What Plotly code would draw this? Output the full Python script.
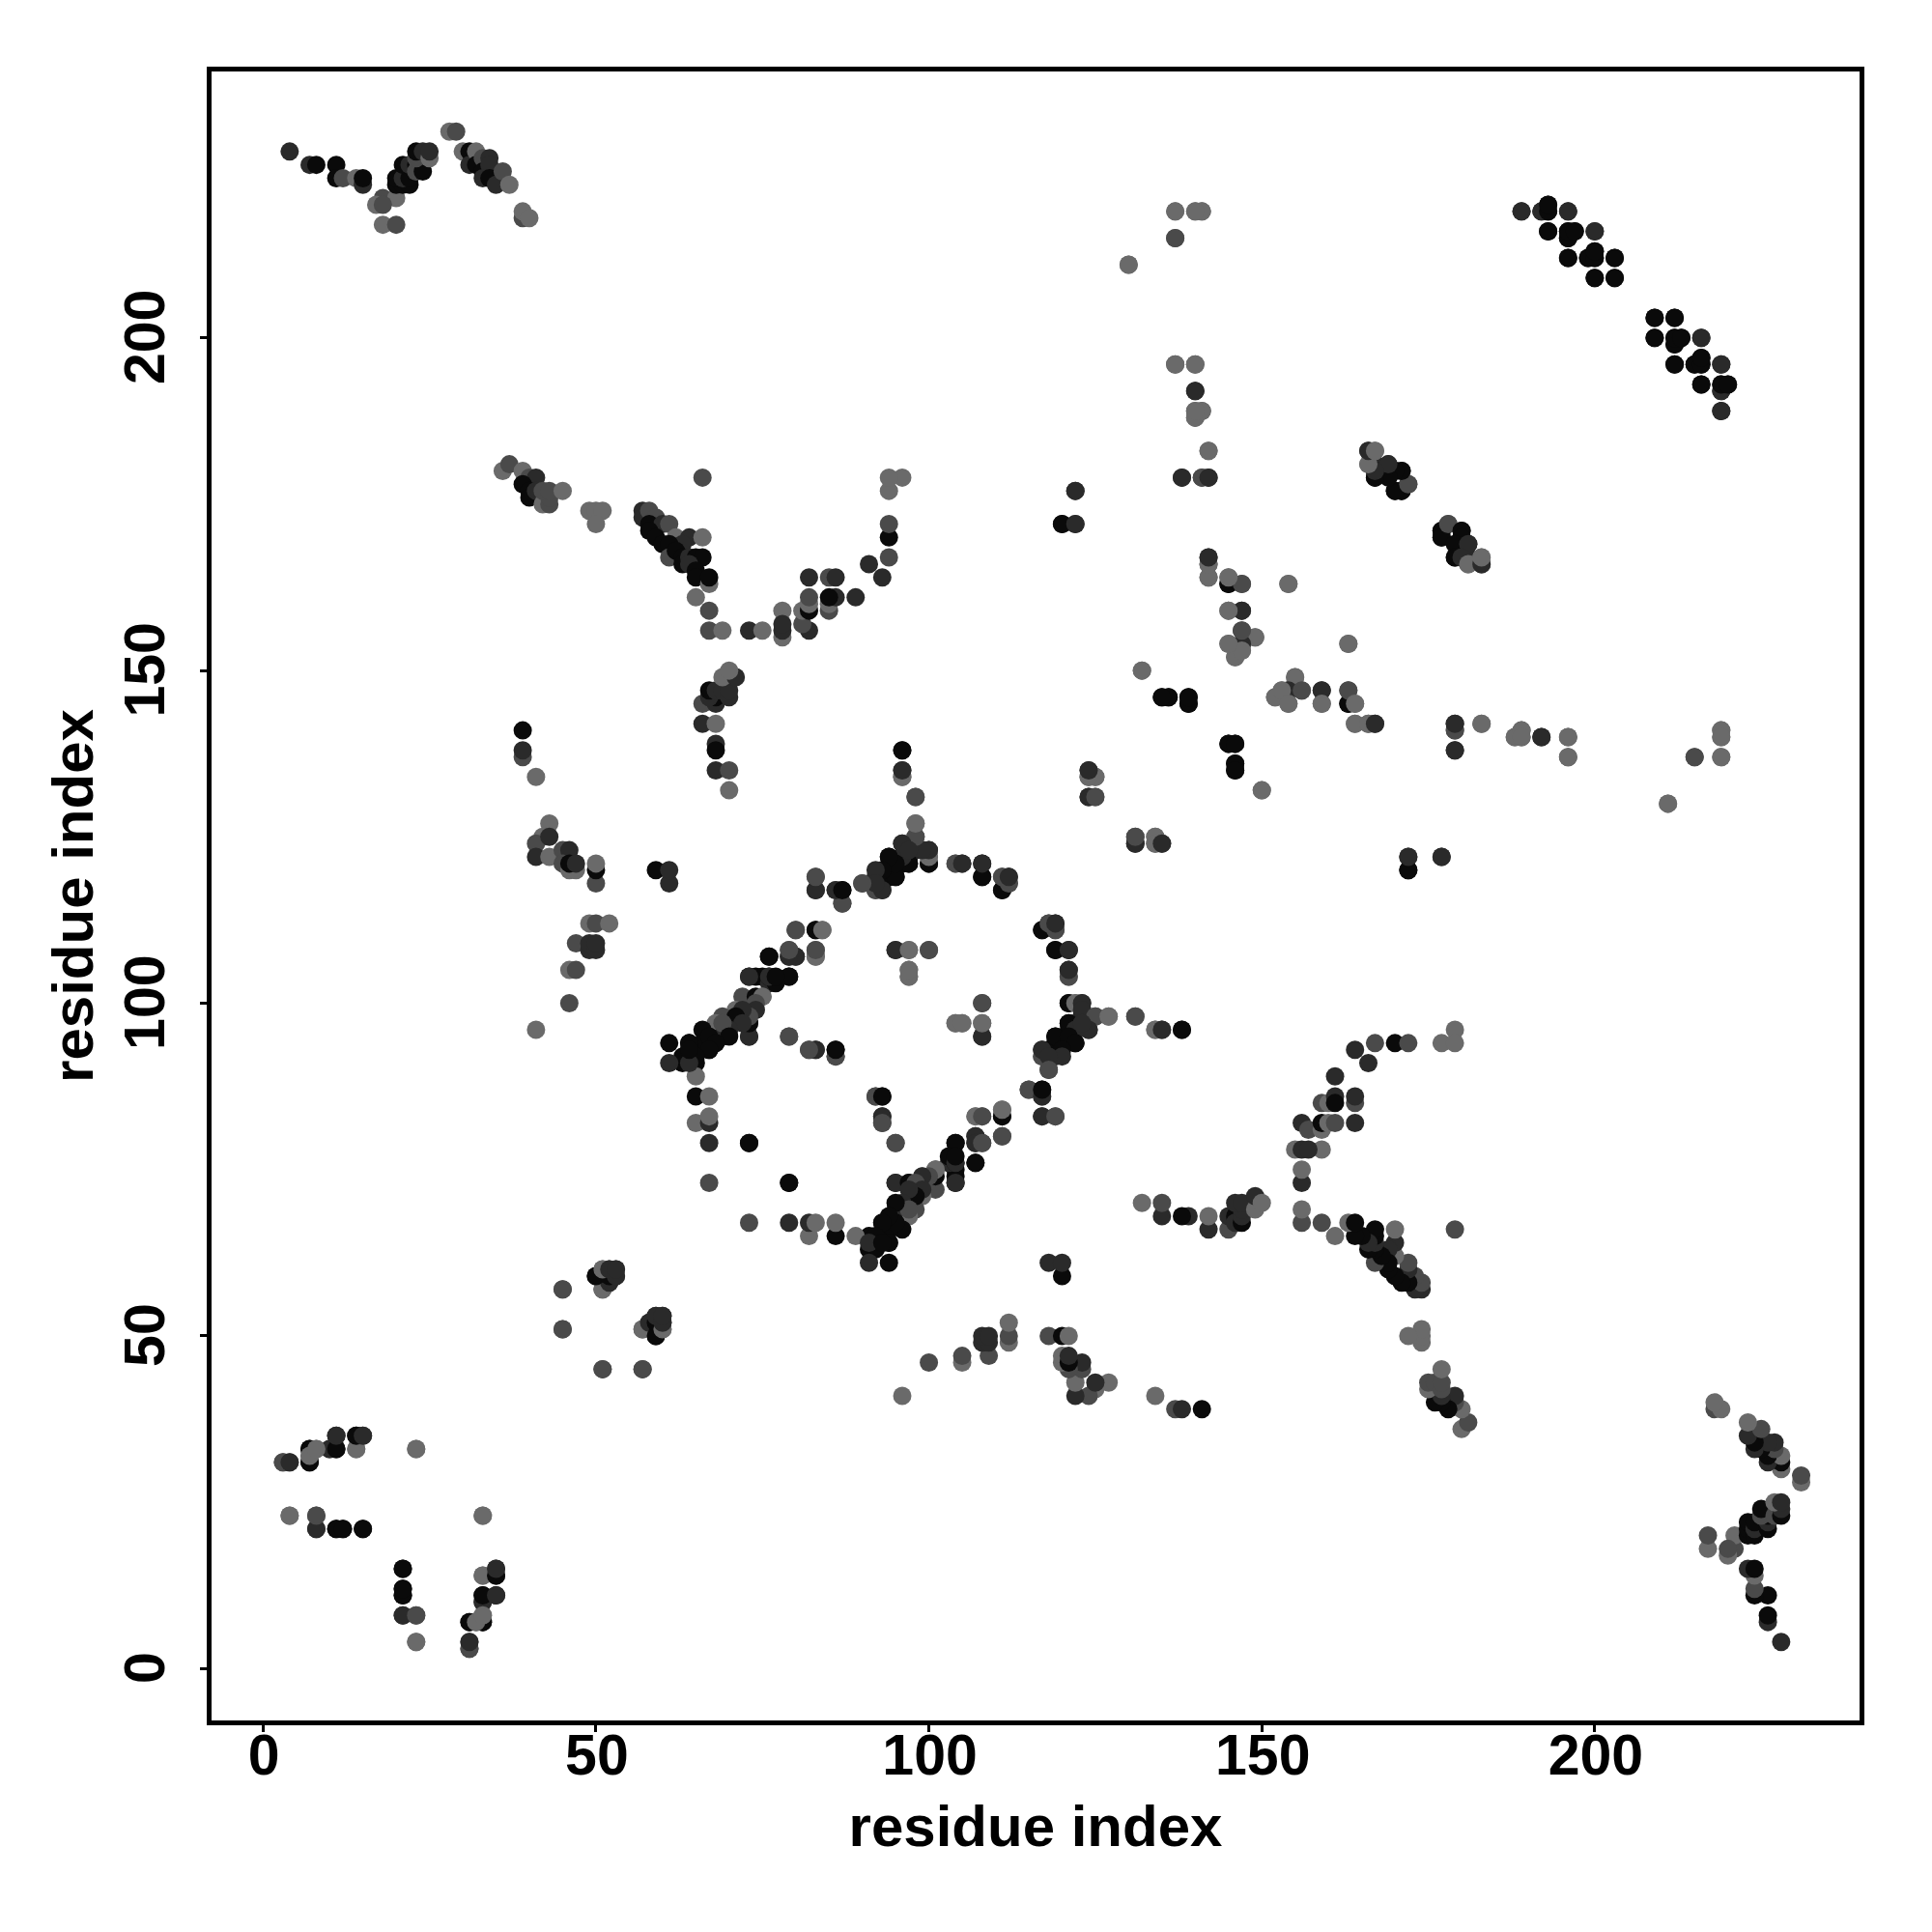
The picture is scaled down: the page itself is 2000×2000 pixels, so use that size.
import plotly.graph_objects as go

# Contacts (residue i, residue j, shade code), i < j; the map is symmetric.
top_left = [(4,228,1),(7,226,1),(8,226,0),(11,226,0),(11,224,0),(12,224,2),(14,224,3),(15,223,1),(15,224,0),
 (18,221,2),(17,220,3),(20,221,3),(18,220,2),(18,217,3),(20,217,2),
 (20,223,0),(21,223,0),(22,223,0),(20,224,0),(21,224,1),(22,224,0),(21,226,0),(22,226,1),(23,226,0),(23,225,2),(24,225,0),
 (23,227,2),(23,228,0),(24,228,1),(25,227,3),(25,228,1),
 (28,231,3),(29,231,2),(30,228,3),(31,228,0),(31,226,1),(32,228,3),(32,226,0),(33,227,2),(34,227,1),(33,225,0),(34,226,1),
 (33,224,1),(34,224,0),(35,223,1),(36,225,2),(37,223,3),(39,218,2),(39,219,3),(40,218,3)]
upper_left_arm = [(36,180,3),(37,181,2),(39,180,3),(40,179,2),(41,179,1),(39,178,0),(40,177,0),(40,176,0),(41,177,1),
 (42,175,3),(43,175,2),(43,176,2),(42,177,2),(43,177,2),(45,177,3),
 (49,174,3),(50,174,3),(51,174,3),(50,172,3),(66,179,2),
 (57,174,1),(57,173,1),(58,174,2),(59,173,2),(58,172,0),(60,172,1),(61,172,2),(58,171,0),(59,170,0),(60,169,0),
 (62,170,3),(64,170,1),(66,170,3),(63,169,1),(61,169,0),(61,167,2),(62,168,0),(63,167,0),(63,166,0),(64,167,1),(65,167,0),(66,167,0),
 (64,166,1),(65,165,0),(65,164,0),(67,163,3),(67,164,0),(65,161,3),(67,159,2),(67,156,2),(69,156,3),(73,156,1),(75,156,3),
 (78,159,3),(78,155,3),(78,156,1),(82,156,1),(81,157,2),(78,157,1),(81,159,3),(82,159,0),(82,160,3),(82,161,2),(85,159,2),(85,160,3),
 (86,161,1),(85,161,0),(82,164,1),(85,164,2),(86,164,1),(89,161,1),(93,164,1),(91,166,1),(94,167,2),(94,170,0),(94,172,2),
 (94,177,3),(96,179,3),(94,179,3)]
left_stems = [(39,141,0),(39,137,2),(39,138,1),(41,134,3),(43,127,3),(42,125,3),(41,124,2),(43,125,1),(41,122,1),(43,122,3),
 (45,123,2),(46,123,1),(45,121,2),(46,120,3),(47,120,3),(46,121,0),(47,121,1),(50,118,2),(50,120,0),(50,121,3),
 (59,120,0),(61,118,1),(61,120,1),(49,112,3),(50,112,2),(52,112,3),(47,109,2),(49,108,1),(49,109,1),(50,108,1),(50,109,1),
 (46,105,3),(47,105,2),(46,100,2),(41,96,3)]
beta_66_150 = [(66,142,1),(68,142,3),(66,145,2),(68,145,1),(68,146,0),(67,146,1),(67,147,0),(68,147,1),(69,147,1),(70,146,1),(70,147,1),
 (69,149,3),(71,149,1),(70,150,3),(68,139,1),(68,138,0),(68,135,1),(70,135,2),(70,132,3)]
ring_top = [(96,138,1),(96,134,3),(96,135,1),(98,131,2),(98,127,3),(98,125,2),(83,119,2),(83,117,1),(86,117,2),(87,117,0),(87,115,2),
 (90,118,2),(92,117,3),(92,119,1),(93,117,1),(93,118,0),(93,119,0),(94,119,0),(94,122,0),(95,119,0),(95,121,2),(96,121,0),(96,122,1),(96,124,1),
 (97,121,0),(97,122,0),(97,123,1),(98,123,1),(99,123,0),(100,122,3),(100,121,0),(100,123,1),(104,121,3),(105,121,1),(108,121,0),(108,119,0),
 (111,117,1),(111,119,2),(112,118,1),(112,119,0),
 (117,111,0),(118,112,2),(119,111,2),(119,112,1)]
ring_left = [(80,111,2),(83,111,0),(84,111,3),(83,107,3),(83,108,2),(79,108,2),(79,107,1),(80,107,1),(76,107,0),(79,104,0),
 (73,104,0),(74,104,0),(75,104,0),(76,103,1),(76,104,0),(72,101,2),(75,101,2),(74,101,0),(71,99,3),(72,99,2),(74,99,3),(72,98,1),
 (73,97,0),(73,95,0),(69,98,2),(68,97,3),(69,95,1),(66,96,0),(67,93,0),(66,94,0),(64,94,0),(64,93,0),(65,91,0),(63,91,0),
 (79,95,2),(82,93,2),(83,93,1),(86,92,1),(86,93,0),
 (65,89,3),(65,86,0),(67,86,3),(65,82,3),(67,82,1),(67,83,3),(67,79,1),(73,79,0),(67,73,2),(79,73,0)]
ring_inner = [(95,108,1),(97,108,3),(100,108,2),(97,104,3),(97,105,3),(104,97,3),(105,97,3),(108,100,2),(108,95,1),(108,97,3)]
ring_lower = [(92,86,2),(93,86,0),(93,83,1),(93,82,2),(95,79,2),(95,73,1),(97,73,0)]
ring_right = [(119,108,0),(121,108,1),(121,104,2),(121,105,1),(121,100,0),(122,100,3),(123,100,1),(123,99,1),(125,98,2),(127,98,3),(131,98,2),
 (134,96,3),(135,96,1),(138,96,0),
 (121,97,0),(122,96,1),(124,96,1),(123,97,1),(119,95,0),(121,95,0),(122,94,0),(120,93,0),(120,92,1),(117,92,2),(117,93,1),(118,92,1),(118,90,2),
 (115,87,2),(117,86,1),(117,87,0),(117,83,1),(119,83,2),(111,83,0),(111,84,3),(107,83,3),(108,83,2),(111,80,2),(107,80,1),(107,79,1),(108,79,2),
 (104,79,0),(107,76,0),(103,77,0),(104,76,1),(104,77,0),(104,73,1)]
helix_pairs = [(101,75,3),(100,74,2),(99,74,1),(98,73,2),(99,72,1),(98,71,0),(97,72,1),(96,70,1),(97,69,2),(95,70,0),(95,67,0),(94,68,0),(93,67,0),(94,64,0),
 (92,65,0),(92,63,0),(91,64,1),(93,64,0),(91,61,1),(94,61,0)]
upper_mid = [(122,177,1),(120,172,0),(122,172,1),(130,211,3),(137,219,3),(140,219,3),(141,219,3),(137,215,2),(137,196,2),(140,196,2),(140,192,0),
 (140,188,3),(140,189,2),(141,189,2),(142,183,3),(138,179,1),(141,179,2),(142,179,1),
 (142,167,1),(142,166,2),(142,164,3),(145,163,0),(145,164,3),(147,163,2),(154,163,3),(145,159,3),(147,159,1),
 (147,156,2),(149,155,3),(147,154,0),(145,154,3),(147,153,3),(146,152,3),(132,150,3),(163,154,3),
 (135,146,0),(136,146,0),(139,146,0),(139,145,0),(152,146,3),(155,149,3),(154,147,1),(153,147,3),(154,145,3),(156,147,2),(159,147,1),(159,145,3),
 (163,145,0),(163,147,2),(164,145,3),(164,142,3),(166,142,3),(167,142,1),(179,141,2),(179,142,1),(179,138,1),(183,142,3),
 (188,140,3),(189,141,3),(189,140,3),(192,140,1),(196,140,3),(196,137,3),(211,130,3),(215,137,2),(219,141,3),(219,140,3),(219,137,3),
 (145,139,0),(146,139,0),(146,136,0),(146,135,0),(150,132,3),
 (124,135,1),(124,134,2),(125,134,3),(124,131,0),(125,131,2),(131,124,1),(131,125,2),(134,125,3),(134,124,3),(135,124,1),
 (172,120,0),(172,122,1),(177,122,1)]
right_beta = [(166,183,1),(166,181,3),(167,181,1),(167,183,3),(167,180,0),(167,179,0),(168,180,1),(169,181,1),(170,180,1),(171,180,0),(170,177,0),(171,177,0),
 (172,178,2),(177,171,0),(177,170,0),(178,172,2),(180,171,0),(180,170,0),(179,169,0),(181,169,1),(179,167,0),(180,167,1),(181,166,3),(183,166,1),(183,167,3)]
top_right = [(189,219,1),(192,219,1),(193,219,0),(193,220,0),(196,219,1),(193,216,0),(196,215,0),(196,216,0),(197,216,0),(200,216,1),
 (196,212,0),(199,212,0),(200,212,0),(200,213,0),(203,212,0),(200,209,0),(203,209,0),
 (209,203,0),(212,203,0),(209,200,0),(212,199,0),(212,200,0),(213,200,0),(216,200,1),(212,196,0),(215,196,0),(216,196,0),(216,197,0),(219,196,1),
 (216,193,0),(219,192,1),(219,193,0),(220,193,0),(219,189,1)]
bottom_left = [(3,31,2),(4,31,2),(7,31,0),(7,32,3),(7,33,0),(8,33,3),(10,33,2),(11,33,0),(11,35,0),(14,33,3),(14,35,0),(15,35,1),(23,33,3),
 (4,23,3),(8,21,1),(8,23,2),(11,21,0),(12,21,0),(15,21,0),
 (21,15,0),(21,11,0),(21,12,0),(21,8,1),(23,8,2),(23,4,3),(33,23,3),(33,14,3),(35,14,0),(35,15,1),(33,10,1),(33,11,0),(35,11,1),
 (31,7,0),(33,7,0),(32,7,3),(33,8,3),(31,3,2),(31,4,1)]
mid_left = [(45,57,2),(45,51,2),(51,45,2),(57,45,2),(51,57,2),(50,59,0),(51,60,3),(51,59,1),(52,58,1),(52,60,1),(53,59,1),(53,60,1),
 (57,51,3),(58,52,1),(59,50,0),(59,52,0),(60,51,3),(59,53,1),(60,52,1),(60,53,1)]

SHADES = ["#0a0a0a", "#2a2a2a", "#4a4a4a", "#6a6a6a"]
TICKS = [0, 50, 100, 150, 200]
AXIS_TITLE = "residue index"

clusters = [top_left, upper_left_arm, left_stems, beta_66_150, ring_top, ring_left, ring_inner,
            ring_lower, ring_right, helix_pairs, upper_mid, right_beta, top_right, bottom_left, mid_left]
rows = [r for c in clusters for r in c]
xs, ys, cs = [], [], []
for i, j, s in rows:
    xs += [i, j]
    ys += [j, i]
    cs += [SHADES[s], SHADES[s]]

fig = go.Figure(go.Scatter(x=xs, y=ys, mode="markers", marker=dict(size=19, color=cs, line=dict(width=0)), hoverinfo="skip"))
tick_font = dict(family="Liberation Sans", size=59, color="black", weight="bold")
title_font = dict(family="Liberation Sans", size=60, color="black", weight="bold")
axis = dict(tickvals=TICKS, showgrid=False, zeroline=False, showline=True, mirror=True, linecolor="black", linewidth=5,
            ticks="outside", ticklen=7, tickwidth=3, tickcolor="black", tickfont=tick_font, automargin=True)
fig.update_layout(width=2000, height=2000, margin=dict(l=219, r=74.5, t=73.5, b=219), plot_bgcolor="white", paper_bgcolor="white",
                  showlegend=False,
                  xaxis=dict(axis, range=[-7.73, 239.77], ticklabelstandoff=-27, ticklabelshift=1,
                             title=dict(text=AXIS_TITLE, font=title_font, standoff=22)),
                  yaxis=dict(axis, range=[-7.79, 240.03], tickangle=-90, ticklabelstandoff=13, ticklabelshift=8,
                             title=dict(text=AXIS_TITLE, font=title_font, standoff=3)))
fig.write_html("out.html", post_script="document.body.style.margin='0';", config=dict(displayModeBar=False))
